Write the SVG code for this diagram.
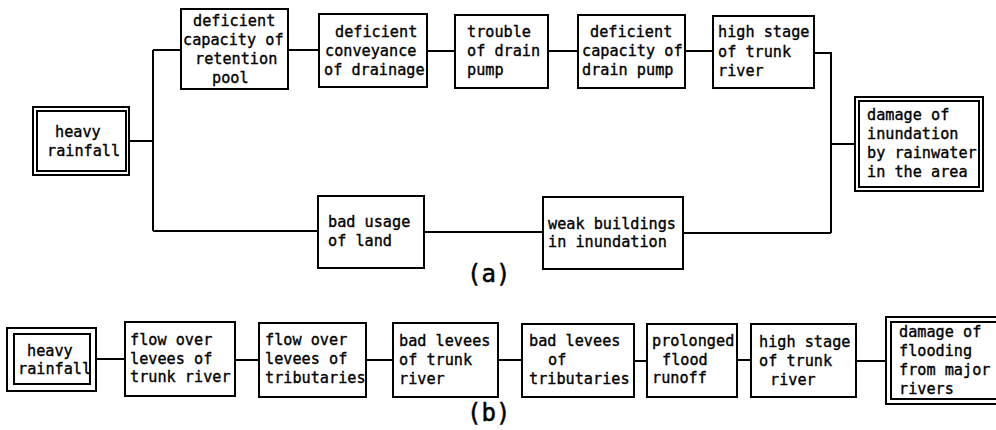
<svg xmlns="http://www.w3.org/2000/svg" width="996" height="430" viewBox="0 0 996 430">
<style>
rect{fill:none;stroke:#000;stroke-width:2}
.bg{fill:#fff;stroke:none}
text{font-family:"DejaVu Sans Mono","Liberation Mono",monospace;font-size:15.2px;fill:#000;stroke:#000;stroke-width:0.35}
.lbl{font-size:24px;stroke-width:0.5}
#connectors path{fill:none;stroke:#000;stroke-width:2}
</style>
<rect class="bg" x="0" y="0" width="996" height="430"/>
<g id="connectors">
<path d="M129,141H153M153,50V231M153,50H181M153,231H318"/>
<path d="M288,50H319M427,51H455M548,51H578M685,51H713"/>
<path d="M814,53H831V233M831,144H855"/>
<path d="M424,232H543M683,233H831"/>
<path d="M96,359H125M235,360H259M366,360H393M498,360H522M634,361H647M737,360H751M856,361H886"/>
</g>
<g id="a_heavy_rainfall">
<rect x="33" y="107" width="96" height="68"/>
<rect x="37" y="111" width="89" height="60"/>
<text x="55" y="137">heavy</text>
<text x="47" y="156">rainfall</text>
</g>
<g id="a_retention">
<rect x="181" y="9" width="107" height="80"/>
<text x="193" y="26">deficient</text>
<text x="183" y="45">capacity of</text>
<text x="195" y="64">retention</text>
<text x="212" y="83">pool</text>
</g>
<g id="a_conveyance">
<rect x="319" y="14" width="108" height="73"/>
<text x="335" y="36.5">deficient</text>
<text x="325" y="55.5">conveyance</text>
<text x="324" y="74.5">of drainage</text>
</g>
<g id="a_trouble">
<rect x="455" y="15" width="93" height="73"/>
<text x="467" y="37">trouble</text>
<text x="467" y="56">of drain</text>
<text x="467" y="75">pump</text>
</g>
<g id="a_pump_capacity">
<rect x="578" y="15" width="107" height="73"/>
<text x="590" y="37">deficient</text>
<text x="582" y="56">capacity of</text>
<text x="582" y="75">drain pump</text>
</g>
<g id="a_high_stage">
<rect x="713" y="16" width="101" height="72"/>
<text x="718" y="37">high stage</text>
<text x="718" y="56.5">of trunk</text>
<text x="718" y="76">river</text>
</g>
<g id="a_damage">
<rect x="855" y="97" width="128" height="94"/>
<rect x="859" y="101" width="120" height="86"/>
<text x="867" y="120">damage of</text>
<text x="867" y="139">inundation</text>
<text x="867" y="158">by rainwater</text>
<text x="867" y="177">in the area</text>
</g>
<g id="a_bad_usage">
<rect x="318" y="196" width="106" height="72"/>
<text x="328" y="226.5">bad usage</text>
<text x="328" y="245.5">of land</text>
</g>
<g id="a_weak_buildings">
<rect x="543" y="197" width="140" height="72"/>
<text x="548" y="228.5">weak buildings</text>
<text x="548" y="247">in inundation</text>
</g>
<text class="lbl" x="467" y="282">(a)</text>
<g id="b_heavy_rainfall">
<rect x="7" y="328" width="89" height="63"/>
<rect x="14" y="334" width="76" height="50"/>
<text x="27" y="356">heavy</text>
<text x="18" y="374">rainfall</text>
</g>
<g id="b_flow_trunk">
<rect x="125" y="322" width="110" height="74"/>
<text x="130" y="344.5">flow over</text>
<text x="130" y="363.5">levees of</text>
<text x="130" y="382">trunk river</text>
</g>
<g id="b_flow_trib">
<rect x="259" y="323" width="107" height="74"/>
<text x="265" y="345">flow over</text>
<text x="265" y="364">levees of</text>
<text x="265" y="383">tributaries</text>
</g>
<g id="b_bad_trunk">
<rect x="393" y="323" width="105" height="74"/>
<text x="399" y="346">bad levees</text>
<text x="399" y="365">of trunk</text>
<text x="399" y="384">river</text>
</g>
<g id="b_bad_trib">
<rect x="522" y="324" width="112" height="73"/>
<text x="529" y="346">bad levees</text>
<text x="548" y="365">of</text>
<text x="529" y="384">tributaries</text>
</g>
<g id="b_prolonged">
<rect x="647" y="324" width="90" height="73"/>
<text x="652" y="346">prolonged</text>
<text x="662" y="365">flood</text>
<text x="652" y="383">runoff</text>
</g>
<g id="b_high_stage">
<rect x="751" y="324" width="105" height="73"/>
<text x="759" y="347">high stage</text>
<text x="759" y="366">of trunk</text>
<text x="770" y="385">river</text>
</g>
<g id="b_damage">
<rect x="886" y="317" width="120" height="87"/>
<rect x="891" y="322" width="110" height="77"/>
<text x="899" y="337">damage of</text>
<text x="899" y="356">flooding</text>
<text x="899" y="375">from major</text>
<text x="899" y="394">rivers</text>
</g>
<text class="lbl" x="467" y="421">(b)</text>
</svg>
